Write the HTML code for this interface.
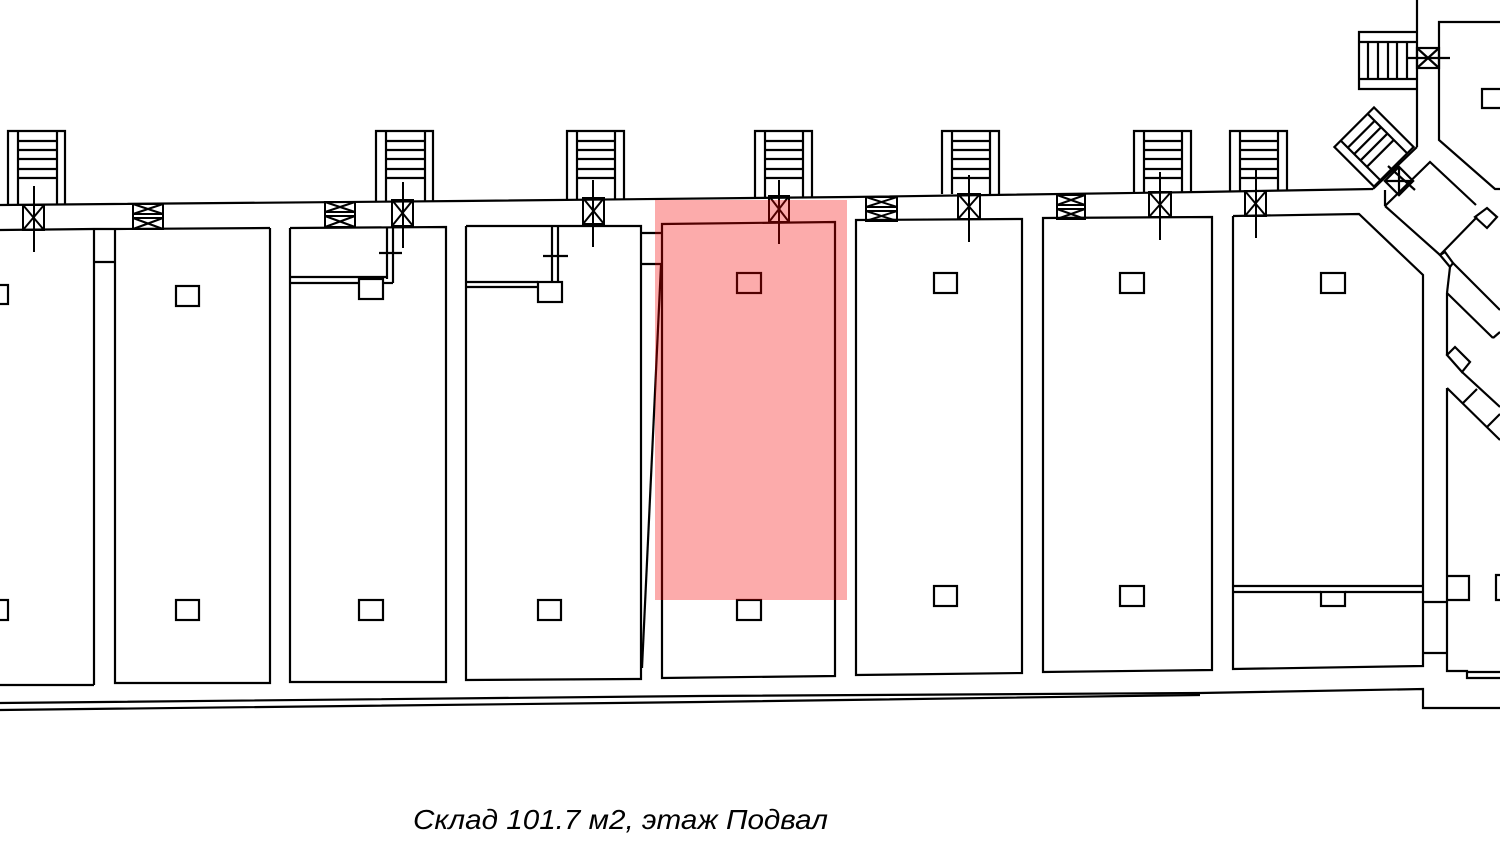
<!DOCTYPE html>
<html><head><meta charset="utf-8"><style>
html,body{margin:0;padding:0;background:#fff;}
svg{display:block;}
</style></head><body>
<svg width="1500" height="845" viewBox="0 0 1500 845" xmlns="http://www.w3.org/2000/svg">
<g fill="none" stroke="#000" stroke-width="2.2">
<!-- corridor top wall -->
<polyline points="0,205 460,201 850,197 1200,192 1373,189"/>
<!-- corridor bottom wall (room tops) -->
<polyline points="0,230 94,229 115,229 270,228"/>
<!-- Room A -->
<line x1="94" y1="230" x2="94" y2="685"/>
<line x1="0" y1="685" x2="94" y2="685"/>
<line x1="94" y1="262" x2="115" y2="262"/>
<!-- Room B -->
<polyline points="115,229 115,683 270,683 270,228"/>
<!-- Room C -->
<polyline points="290,228 290,682 446,682 446,227 290,228"/>
<line x1="290" y1="277" x2="387" y2="277"/>
<line x1="290" y1="283" x2="359" y2="283"/>
<line x1="387" y1="228" x2="387" y2="279"/>
<line x1="393" y1="227" x2="393" y2="283"/>
<line x1="383" y1="283" x2="393" y2="283"/>
<line x1="379" y1="253" x2="402" y2="253"/>
<rect x="359" y="279" width="24" height="20"/>
<!-- Room D -->
<polyline points="466,226 466,680 641,679 641,226 466,226"/>
<line x1="466" y1="282" x2="538" y2="282"/>
<line x1="466" y1="287" x2="538" y2="287"/>
<line x1="552" y1="226" x2="552" y2="282"/>
<line x1="558" y1="226" x2="558" y2="282"/>
<line x1="543" y1="256" x2="568" y2="256"/>
<rect x="538" y="282" width="24" height="20"/>
<!-- gap D-E -->
<line x1="641" y1="233" x2="662" y2="233"/>
<line x1="641" y1="264" x2="662" y2="264"/>
<line x1="661" y1="265" x2="642" y2="668"/>
<!-- Room E -->
<polygon points="662,224 835,222 835,676 662,678"/>
<!-- Room F -->
<polygon points="856,220 1022,219 1022,673 856,675"/>
<!-- Room G -->
<polygon points="1043,218 1212,217 1212,670 1043,672"/>
<!-- Room H -->
<polyline points="1233,216 1359,214 1423,275 1423,666 1233,669 1233,216"/>
<line x1="1233" y1="586" x2="1423" y2="586"/>
<line x1="1233" y1="592" x2="1321" y2="592"/>
<line x1="1345" y1="592" x2="1423" y2="592"/>
<rect x="1321" y="592" width="24" height="14"/>
<!-- pillars -->
<rect x="-16" y="285" width="24" height="19"/>
<rect x="-16" y="600" width="24" height="20"/>
<rect x="176" y="286" width="23" height="20"/>
<rect x="176" y="600" width="23" height="20"/>
<rect x="359" y="600" width="24" height="20"/>
<rect x="538" y="600" width="23" height="20"/>
<rect x="737" y="273" width="24" height="20"/>
<rect x="737" y="600" width="24" height="20"/>
<rect x="934" y="273" width="23" height="20"/>
<rect x="934" y="586" width="23" height="20"/>
<rect x="1120" y="273" width="24" height="20"/>
<rect x="1120" y="586" width="24" height="20"/>
<rect x="1321" y="273" width="24" height="20"/>
<!-- bottom corridor -->
<polyline points="0,703 700,696 1200,693 1423,689 1423,708 1500,708"/>
<polyline points="0,710 700,702 1200,695"/>
<!-- right side lower -->
<line x1="1423" y1="602" x2="1447" y2="602"/>
<line x1="1423" y1="653" x2="1447" y2="653"/>
<polyline points="1447,388 1447,671 1467,671 1467,678 1500,678"/>
<line x1="1467" y1="672" x2="1500" y2="672"/>
<polyline points="1447,576 1469,576 1469,600 1447,600"/>
<polyline points="1500,575 1496,575 1496,600 1500,600"/>
<!-- stairs -->
<g>
<polyline points="8,205 8,131 65,131 65,205"/>
<line x1="18" y1="131" x2="18" y2="205"/><line x1="57" y1="131" x2="57" y2="205"/>
<path d="M18,141H57M18,150H57M18,159H57M18,169H57M18,178H57"/>
</g>
<g>
<polyline points="376,201 376,131 433,131 433,201"/>
<line x1="386" y1="131" x2="386" y2="201"/><line x1="425" y1="131" x2="425" y2="201"/>
<path d="M386,141H425M386,150H425M386,159H425M386,169H425M386,178H425"/>
</g>
<g>
<polyline points="567,199 567,131 624,131 624,199"/>
<line x1="577" y1="131" x2="577" y2="199"/><line x1="615" y1="131" x2="615" y2="199"/>
<path d="M577,141H615M577,150H615M577,159H615M577,169H615M577,178H615"/>
</g>
<g>
<polyline points="755,197 755,131 812,131 812,197"/>
<line x1="765" y1="131" x2="765" y2="197"/><line x1="803" y1="131" x2="803" y2="197"/>
<path d="M765,141H803M765,150H803M765,159H803M765,169H803M765,178H803"/>
</g>
<g>
<polyline points="942,194 942,131 999,131 999,194"/>
<line x1="952" y1="131" x2="952" y2="194"/><line x1="990" y1="131" x2="990" y2="194"/>
<path d="M952,141H990M952,150H990M952,159H990M952,169H990M952,178H990"/>
</g>
<g>
<polyline points="1134,192 1134,131 1191,131 1191,192"/>
<line x1="1144" y1="131" x2="1144" y2="192"/><line x1="1182" y1="131" x2="1182" y2="192"/>
<path d="M1144,141H1182M1144,150H1182M1144,159H1182M1144,169H1182M1144,178H1182"/>
</g>
<g>
<polyline points="1230,191 1230,131 1287,131 1287,191"/>
<line x1="1240" y1="131" x2="1240" y2="191"/><line x1="1278" y1="131" x2="1278" y2="191"/>
<path d="M1240,141H1278M1240,150H1278M1240,159H1278M1240,169H1278M1240,178H1278"/>
</g>
<!-- doors single X -->
<g stroke-width="2">
<rect x="23" y="205" width="21" height="25"/><path d="M23,205 L44,230 M44,205 L23,230"/><line x1="34" y1="186" x2="34" y2="252"/>
<rect x="392" y="200" width="21" height="26"/><path d="M392,200 L413,226 M413,200 L392,226"/><line x1="403" y1="182" x2="403" y2="248"/>
<rect x="583" y="198" width="21" height="26"/><path d="M583,198 L604,224 M604,198 L583,224"/><line x1="593" y1="180" x2="593" y2="247"/>
<rect x="769" y="196" width="20" height="26"/><path d="M769,196 L789,222 M789,196 L769,222"/><line x1="779" y1="180" x2="779" y2="244"/>
<rect x="958" y="194" width="22" height="25"/><path d="M958,194 L980,219 M980,194 L958,219"/><line x1="969" y1="175" x2="969" y2="242"/>
<rect x="1149" y="192" width="22" height="25"/><path d="M1149,192 L1171,217 M1171,192 L1149,217"/><line x1="1160" y1="172" x2="1160" y2="240"/>
<rect x="1245" y="191" width="21" height="25"/><path d="M1245,191 L1266,216 M1266,191 L1245,216"/><line x1="1256" y1="170" x2="1256" y2="238"/>
</g>
<!-- double X boxes -->
<g stroke-width="2">
<rect x="133" y="204" width="30" height="25"/><line x1="133" y1="214" x2="163" y2="214"/><line x1="133" y1="218" x2="163" y2="218"/><path d="M133,204 L163,214 M163,204 L133,214 M133,218 L163,229 M163,218 L133,229"/>
<rect x="325" y="202" width="30" height="25"/><line x1="325" y1="212" x2="355" y2="212"/><line x1="325" y1="216" x2="355" y2="216"/><path d="M325,202 L355,212 M355,202 L325,212 M325,216 L355,227 M355,216 L325,227"/>
<rect x="866" y="197" width="31" height="24"/><line x1="866" y1="207" x2="897" y2="207"/><line x1="866" y1="211" x2="897" y2="211"/><path d="M866,197 L897,207 M897,197 L866,207 M866,211 L897,221 M897,211 L866,221"/>
<rect x="1057" y="195" width="28" height="24"/><line x1="1057" y1="205" x2="1085" y2="205"/><line x1="1057" y1="209" x2="1085" y2="209"/><path d="M1057,195 L1085,205 M1085,195 L1057,205 M1057,209 L1085,219 M1085,209 L1057,219"/>
</g>
<!-- upper right -->
<line x1="1417" y1="0" x2="1417" y2="147"/>
<line x1="1417" y1="147" x2="1373" y2="189"/>
<polyline points="1417,32 1359,32 1359,89 1417,89"/>
<line x1="1359" y1="42" x2="1417" y2="42"/>
<line x1="1359" y1="79" x2="1417" y2="79"/>
<line x1="1368" y1="42" x2="1368" y2="79"/>
<line x1="1378" y1="42" x2="1378" y2="79"/>
<line x1="1388" y1="42" x2="1388" y2="79"/>
<line x1="1397" y1="42" x2="1397" y2="79"/>
<line x1="1407" y1="42" x2="1407" y2="79"/>
<rect x="1417" y="48" width="22" height="20"/><path d="M1417,48 L1439,68 M1439,48 L1417,68"/>
<line x1="1407" y1="58" x2="1450" y2="58"/>
<polyline points="1500,22 1439,22 1439,140 1495,189 1500,189"/>
<polyline points="1500,89 1482,89 1482,108 1500,108"/>
<!-- diagonal stair -->
<g transform="translate(1374,147) rotate(-45)">
<rect x="-28" y="-28" width="56" height="56"/>
<line x1="-19" y1="-28" x2="-19" y2="28"/>
<line x1="19" y1="-28" x2="19" y2="28"/>
<line x1="-19" y1="-18" x2="19" y2="-18"/>
<line x1="-19" y1="-9" x2="19" y2="-9"/>
<line x1="-19" y1="0" x2="19" y2="0"/>
<line x1="-19" y1="9" x2="19" y2="9"/>
</g>
<!-- diagonal door -->
<g transform="translate(1399,181) rotate(-45)">
<rect x="-10" y="-10" width="20" height="20"/>
<path d="M-10,-10 L10,10 M10,-10 L-10,10"/>
</g>
<line x1="1388" y1="166" x2="1415" y2="190"/>
<line x1="1385" y1="190" x2="1385" y2="206"/>
<!-- diagonal room -->
<polyline points="1385,206 1430,162 1476,205"/>
<polygon points="1475,217 1487,208 1497,217 1487,228"/>
<line x1="1477" y1="217" x2="1440" y2="255"/>
<line x1="1385" y1="206" x2="1440" y2="255"/>
<polygon points="1440,255 1445,252 1453,263 1450,267"/>
<line x1="1450" y1="267" x2="1447" y2="293"/>
<line x1="1453" y1="263" x2="1500" y2="310"/>
<line x1="1447" y1="293" x2="1493" y2="338"/>
<line x1="1493" y1="338" x2="1500" y2="332"/>
<line x1="1447" y1="293" x2="1447" y2="355"/>
<polygon points="1447,355 1455,347 1470,362 1462,372"/>
<line x1="1462" y1="372" x2="1500" y2="407"/>
<line x1="1447" y1="388" x2="1500" y2="440"/>
<line x1="1463" y1="403" x2="1477" y2="389"/>
<line x1="1487" y1="427" x2="1500" y2="414"/>
</g>
<!-- highlight -->
<rect x="655" y="200" width="192" height="400" fill="rgb(245,0,0)" fill-opacity="0.33"/>
<!-- caption -->
<text x="413" y="829" font-family="'Liberation Sans', sans-serif" font-style="italic" font-size="28" fill="#000" textLength="415" lengthAdjust="spacingAndGlyphs">Склад 101.7 м2, этаж Подвал</text>
</svg>
</body></html>
